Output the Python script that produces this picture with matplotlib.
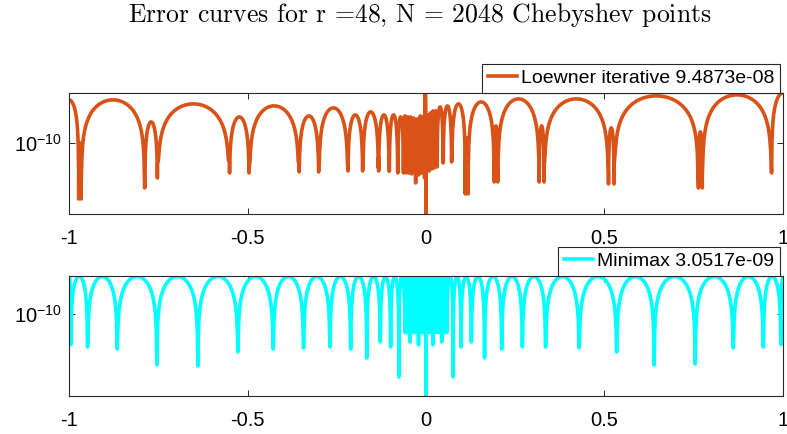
import numpy as np
import matplotlib
matplotlib.use("Agg")
import matplotlib.pyplot as plt

plt.rcParams["font.family"] = ["Liberation Sans", "DejaVu Sans"]
plt.rcParams["axes.unicode_minus"] = False

# ---- data (log10 of |error|) ----
# Loewner iterative: zero locations, depth of each dip, lobe peaks (one more than zeros)
loew_zeros = [-0.973, -0.966, -0.788, -0.752, -0.551, -0.495, -0.356, -0.300, -0.219,
              -0.177, -0.133, -0.103, -0.079, -0.063, -0.055, -0.047, -0.040, -0.029,
              -0.020, -0.012, -0.004, 0.000, 0.009, 0.016, 0.023, 0.031, 0.048, 0.072,
              0.110, 0.118, 0.191, 0.201, 0.317, 0.331, 0.511, 0.527, 0.763, 0.774, 0.968]
loew_dips = [-10.25, -10.41, -10.45, -10.21, -10.19, -10.23, -10.18, -10.19, -10.25,
             -10.18, -10.14, -10.25, -10.15, -10.13, -10.15, -10.17, -10.20, -10.40,
             -10.30, -10.25, -10.35, -10.75, -10.17, -10.22, -10.25, -10.20, -10.12, -10.13,
             -10.38, -10.27, -10.17, -10.17, -10.20, -10.25, -10.32, -10.22, -10.44, -10.32, -10.30]
loew_peaks = [-9.57, -10.00, -9.57, -9.79, -9.61, -9.74, -9.63, -9.73, -9.65, -9.72,
              -9.69, -9.72, -9.72, -9.74, -9.73, -9.74, -9.74, -9.75, -9.76, -9.73,
              -9.74, -9.48, -9.72, -9.70, -9.68, -9.68, -9.64, -9.63, -9.61, -9.95,
              -9.59, -9.83, -9.56, -9.83, -9.56, -9.85, -9.53, -9.89, -9.52, -9.50]

# Minimax: equioscillating, every lobe reaches the same level
mm_zeros = [-0.995, -0.948, -0.865, -0.754, -0.639, -0.527, -0.428, -0.343, -0.269,
            -0.211, -0.166, -0.128, -0.099, -0.076, -0.059, -0.052, -0.045, -0.039,
            -0.033, -0.027, -0.021, -0.012, -0.006, 0.000, 0.006, 0.012, 0.019, 0.025,
            0.032, 0.038, 0.044, 0.051, 0.058, 0.076, 0.098, 0.127, 0.164, 0.212, 0.270,
            0.335, 0.429, 0.534, 0.639, 0.754, 0.861, 0.945, 0.994]
mm_dips = [-10.23, -10.33, -10.35, -10.51, -10.52, -10.38, -10.35, -10.34, -10.33,
           -10.35, -10.44, -10.28, -10.33, -10.63, -10.14, -10.05, -10.28, -10.04,
           -10.18, -10.04, -10.31, -10.03, -10.05, -10.83, -10.03, -10.05, -10.31, -10.04,
           -10.18, -10.04, -10.28, -10.05, -10.14, -10.63, -10.33, -10.28, -10.44, -10.35, -10.33,
           -10.33, -10.34, -10.38, -10.51, -10.50, -10.34, -10.33, -10.23]
mm_level = -9.625

x_ticks = [-1, -0.5, 0, 0.5, 1]
x_ticklabels = ["-1", "-0.5", "0", "0.5", "1"]
labels = ["Loewner iterative 9.4873e-08", "Minimax 3.0517e-09"]
colors = ["#D95319", "#00FFFF"]


def error_curve(zeros, dips, peaks, n=80, flat=0.4):
    """Join rounded lobes between the read zeros; each zero drops to its dip."""
    edges = [-1.0] + list(zeros) + [1.0]
    xs, ys = [], []
    for i in range(len(edges) - 1):
        a, b = edges[i], edges[i + 1]
        lo = 0.5 if i == 0 else 0.0
        hi = 0.5 if i == len(edges) - 2 else 1.0
        t = np.linspace(lo, hi, n)
        logv = peaks[i] + flat * np.log10(np.maximum(np.sin(np.pi * t), 1e-3))
        if i > 0:
            logv[0] = dips[i - 1]
        if i < len(dips):
            logv[-1] = dips[i]
        xs.append(a + (b - a) * (t - lo) / (hi - lo))
        ys.append(10.0 ** logv)
    return np.concatenate(xs), np.concatenate(ys)


curves = [
    error_curve(loew_zeros, loew_dips, loew_peaks),
    error_curve(mm_zeros, mm_dips, [mm_level] * (len(mm_zeros) + 1)),
]
ylims = [(10 ** -10.71, 10 ** -9.50), (10 ** -10.82, 10 ** -9.62)]

fig = plt.figure(figsize=(7.87, 4.34), dpi=100)
boxes = [[0.0877, 0.507, 0.9072, 0.279], [0.0877, 0.0876, 0.9072, 0.2765]]

for k in range(2):
    ax = fig.add_axes(boxes[k])
    x, y = curves[k]
    ax.semilogy(x, y, color=colors[k], lw=2.6, label=labels[k])
    ax.set_xlim(-1, 1)
    ax.set_ylim(*ylims[k])
    ax.set_xticks(x_ticks)
    ax.set_xticklabels(x_ticklabels)
    ax.set_yticks([1e-10])
    ax.minorticks_off()
    ax.tick_params(direction="in", top=True, right=True, labelsize=14.5,
                   length=4, width=0.7, color="#262626")
    ax.tick_params(axis="x", pad=11)
    ax.tick_params(axis="y", pad=5)
    for s in ax.spines.values():
        s.set_color("#262626")
        s.set_linewidth(0.8)
    leg = ax.legend(loc="lower right", bbox_to_anchor=(0.996, 1.0), fontsize=14,
                    frameon=True, fancybox=False, edgecolor="#262626", framealpha=1,
                    borderpad=0.3, handlelength=1.5, handletextpad=0.2,
                    borderaxespad=0.0)
    leg.get_frame().set_linewidth(0.8)

fig.text(0.534, 0.965,
         r"$\text{Error curves for r =48, N = 2048 Chebyshev points}$",
         ha="center", va="center", fontsize=18.5, math_fontfamily="cm")

fig.savefig("out.png", dpi=100)
